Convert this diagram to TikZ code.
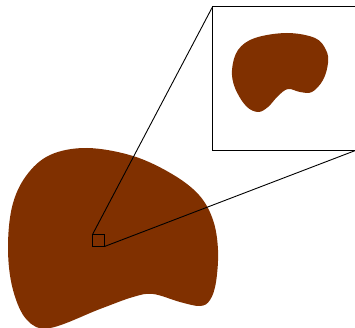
\documentclass[tikz,border=0pt]{standalone}
\usetikzlibrary{positioning}
\definecolor{blob}{RGB}{128,48,0}
\begin{document}
\begin{tikzpicture}[x=1pt,y=-1pt,
  frame/.style={draw=black,line width=0.9pt,inner sep=0pt,outer sep=0pt,rectangle},
  link/.style={draw=black,line width=0.9pt}]
\useasboundingbox (0,0) rectangle (355,328);
% large blob
\fill[blob] plot[smooth cycle,tension=0.6] coordinates {
 (50,155) (87,148) (133,156) (172,174) (199,195) (213,220) (218,250)
 (216,282) (210,300) (200,306) (180,302) (153,294) (133,297) (100,309)
 (50,328) (27,320) (13,290) (8,250) (12,207) (26,176)};
% small blob in inset
\fill[blob] plot[smooth cycle,tension=0.6] coordinates {
 (287,33) (315,38) (326,50) (328,63) (323,80) (312,92) (300,92) (288,89)
 (278,96) (268,107) (258,112) (246,106) (235,88) (232,70) (238,50) (255,38)};
\node[frame,minimum size=12pt] (zoom) at (98.5,240.5) {};
\node[frame,minimum size=143.5pt] (view) at (284.3,78.5) {};
\draw[link] (zoom.north west) -- (view.north west);
\draw[link] (zoom.south east) -- (view.south east);
\end{tikzpicture}
\end{document}
